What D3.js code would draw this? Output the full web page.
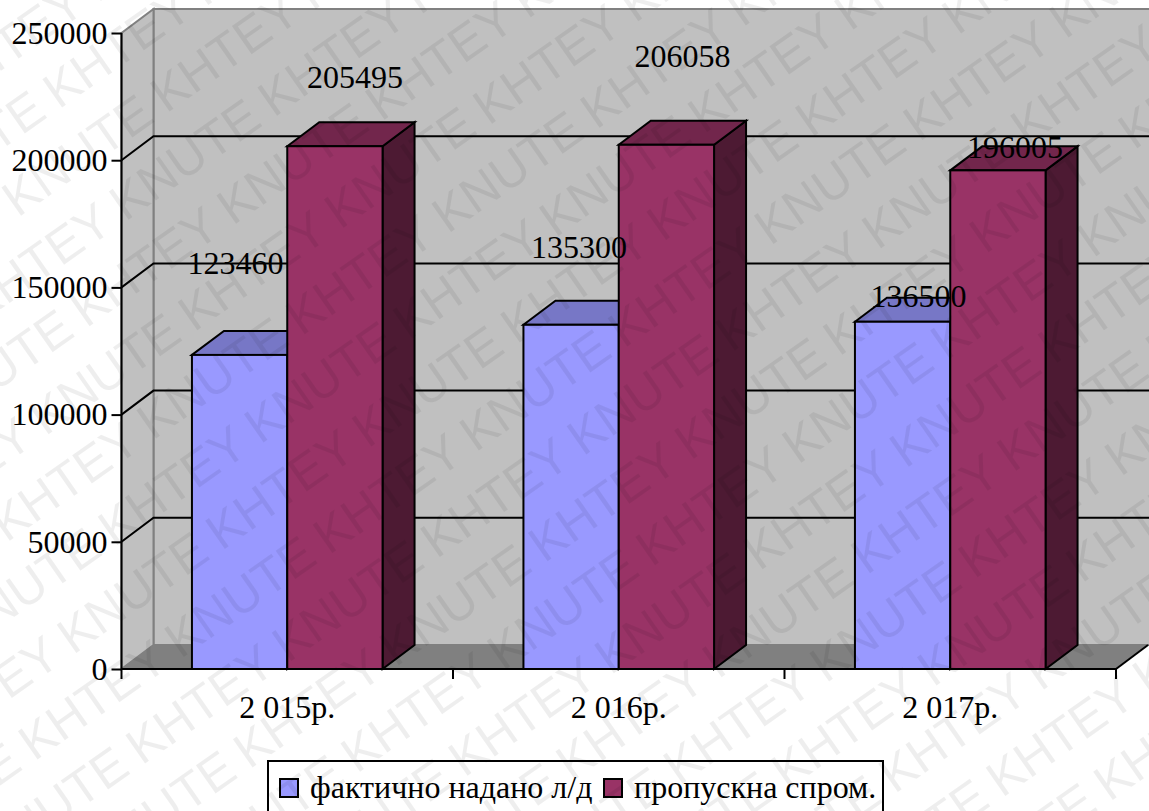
<!DOCTYPE html>
<html>
<head>
<meta charset="utf-8">
<script src="https://cdn.jsdelivr.net/npm/d3@7"></script>
<style>
html,body{margin:0;padding:0;background:#fff;overflow:hidden}
svg{display:block}
text{font-family:"Liberation Serif","Times New Roman",serif;fill:#000}
</style>
</head>
<body>
<svg id="chart" width="1149" height="811"></svg>
<script>
const categories = ["2 015р.", "2 016р.", "2 017р."];
const seriesNames = ["фактично надано л/д", "пропускна спром."];
const actualValues = [123460, 135300, 136500];
const capacityValues = [205495, 206058, 196005];
const yTicks = [0, 50000, 100000, 150000, 200000, 250000];

const W = 1149, H = 811;
const svg = d3.select("#chart");

// Plot box and the oblique offset that gives the chart its depth
const plotLeft = 121.5, plotRight = 1116, plotBottom = 669, plotTop = 33;
const dx = 32, dy = -24;

const y = d3.scaleLinear().domain([0, 250000]).range([plotBottom, plotTop]);
const x = d3.scaleBand().domain(categories).range([plotLeft, plotRight]).paddingInner(0).paddingOuter(0);
const inner = d3.scaleBand().domain(d3.range(seriesNames.length))
  .range([x.bandwidth() * 0.2125, x.bandwidth() * 0.7875]);

const poly = pts => pts.map(p => p.join(",")).join(" ");

// Walls and floor
svg.append("polygon").attr("points", poly([[plotLeft+dx,plotTop+dy],[W+2,plotTop+dy],[W+2,plotBottom+dy],[plotLeft+dx,plotBottom+dy]]))
  .attr("fill", "#c0c0c0").attr("stroke", "#808080").attr("stroke-width", 2);
svg.append("polygon").attr("points", poly([[plotLeft,plotBottom],[plotLeft,plotTop],[plotLeft+dx,plotTop+dy],[plotLeft+dx,plotBottom+dy]]))
  .attr("fill", "#c0c0c0").attr("stroke", "#808080").attr("stroke-width", 2);
svg.append("polygon").attr("points", poly([[plotLeft,plotBottom],[plotLeft+dx,plotBottom+dy],[plotRight+dx,plotBottom+dy],[plotRight,plotBottom]]))
  .attr("fill", "#808080").attr("stroke", "#808080").attr("stroke-width", 1);

// Gridlines run across the back wall and fold down the side wall
const grid = svg.append("g").attr("stroke", "#000").attr("stroke-width", 2).attr("fill", "none");
yTicks.filter(t => t > 0 && t < 250000).forEach(t => {
  grid.append("polyline").attr("points", poly([[plotLeft,y(t)],[plotLeft+dx,y(t)+dy],[W+2,y(t)+dy]]));
});

// Bars: front, top and side faces
const palette = [
  {front:"#9999ff", top:"#7777c6", side:"#4d4d80"},
  {front:"#993366", top:"#72264c", side:"#4d1a33"}
];
const seriesValues = [actualValues, capacityValues];
const bars = svg.append("g").attr("stroke", "#000").attr("stroke-width", 2).attr("stroke-linejoin", "miter");
categories.forEach((c, ci) => {
  seriesValues.forEach((vals, si) => {
    const x0 = x(c) + inner(si), x1 = x0 + inner.bandwidth(), yt = y(vals[ci]);
    const g = bars.append("g");
    g.append("polygon").attr("points", poly([[x1,plotBottom],[x1+dx,plotBottom+dy],[x1+dx,yt+dy],[x1,yt]])).attr("fill", palette[si].side);
    g.append("polygon").attr("points", poly([[x0,yt],[x0+dx,yt+dy],[x1+dx,yt+dy],[x1,yt]])).attr("fill", palette[si].top);
    g.append("rect").attr("x", x0).attr("y", yt).attr("width", x1-x0).attr("height", plotBottom-yt).attr("fill", palette[si].front);
  });
});

// Axes
const yAxis = d3.axisLeft(y).tickValues(yTicks).tickSize(10).tickPadding(4).tickFormat(d3.format("d"));
const gy = svg.append("g").attr("transform", `translate(${plotLeft},0)`).call(yAxis);
gy.selectAll("text").attr("font-size", 32).attr("dy", "0.32em");
gy.selectAll("line,path").attr("stroke", "#000").attr("stroke-width", 2);
gy.select("path").attr("d", `M0,${plotTop}V${plotBottom}`);

const xAxis = d3.axisBottom(x).tickValues(categories).tickSize(0).tickPadding(26);
const gx = svg.append("g").attr("transform", `translate(0,${plotBottom})`).call(xAxis);
gx.selectAll("text").attr("font-size", 32);
gx.select("path").attr("d", `M${plotLeft},0H${plotRight}`).attr("stroke", "#000").attr("stroke-width", 2);
gx.selectAll(".tick line").remove();
gx.selectAll("line.sep").data([0, 1, 2, 3]).enter().append("line").attr("class", "sep")
  .attr("x1", i => plotLeft + i * x.step()).attr("x2", i => plotLeft + i * x.step())
  .attr("y1", 0).attr("y2", 10).attr("stroke", "#000").attr("stroke-width", 2);
svg.append("line").attr("x1", plotRight).attr("y1", plotBottom).attr("x2", plotRight+dx).attr("y2", plotBottom+dy)
  .attr("stroke", "#000").attr("stroke-width", 2);

// Value labels, nudged by hand above each column
const labelLift = [[81, 67, 15], [58, 78, 12]];
const labelShift = [[-4, 8, 16], [20, 16, 17]];
seriesValues.forEach((vals, si) => vals.forEach((v, ci) => {
  const cx = x(categories[ci]) + inner(si) + inner.bandwidth() / 2;
  svg.append("text").attr("x", cx + labelShift[si][ci]).attr("y", y(v) - labelLift[si][ci])
    .attr("text-anchor", "middle").attr("font-size", 32).text(v);
}));

// Legend
const lg = svg.append("g");
lg.append("rect").attr("x", 268).attr("y", 761).attr("width", 615).attr("height", 70)
  .attr("fill", "#fff").attr("stroke", "#000").attr("stroke-width", 2);
const legendX = [280, 604];
seriesNames.forEach((n, i) => {
  lg.append("rect").attr("x", legendX[i]).attr("y", 779).attr("width", 18).attr("height", 18)
    .attr("fill", palette[i].front).attr("stroke", "#000").attr("stroke-width", 2);
  lg.append("text").attr("x", legendX[i] + 30).attr("y", 798).attr("font-size", 32).text(n);
});

// Repeating diagonal overlay lettering, placed word by word on a sheared lattice
const overlayWords = ["KHTEY", "KNUTE"];
const ovAngle = -35, rowGap = 65, wordStep = 180, rowShear = 85.75;
const ov = svg.append("g").attr("pointer-events", "none");
const rad = ovAngle * Math.PI / 180;
d3.range(-20, 21).forEach(r => {
  d3.range(-16, 17).forEach(i => {
    const u = i * wordStep + r * rowShear, v = r * rowGap;
    const px = 210 + u * Math.cos(rad) - v * Math.sin(rad);
    const py = 718 + u * Math.sin(rad) + v * Math.cos(rad);
    if (px < -90 || px > W + 90 || py < -70 || py > H + 70) return;
    ov.append("text").attr("transform", `translate(${px},${py}) rotate(${ovAngle})`)
      .attr("text-anchor", "middle")
      .style("font-family", '"Liberation Sans", Arial, sans-serif')
      .style("fill", "#000").style("fill-opacity", 0.065)
      .attr("font-size", 50).text(overlayWords[Math.abs(i) % 2]);
  });
});
</script>
</body>
</html>
